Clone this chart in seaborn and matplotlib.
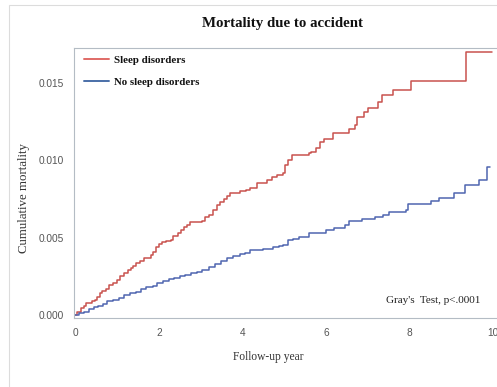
import matplotlib
matplotlib.use("Agg")
import matplotlib.pyplot as plt
import seaborn as sns
import pandas as pd
from matplotlib.lines import Line2D
from matplotlib.patches import Rectangle

# ---- data ----
sleep_t = [0, 0.05, 0.13, 0.2, 0.25, 0.33, 0.41, 0.47, 0.53, 0.59, 0.65, 0.73, 0.81, 0.9,
           1.0, 1.08, 1.17, 1.25, 1.33, 1.39, 1.45, 1.55, 1.64, 1.72, 1.8, 1.86, 1.92,
           2.0, 2.08, 2.18, 2.28, 2.34, 2.45, 2.52, 2.6, 2.68, 2.74, 3.02, 3.1, 3.2,
           3.29, 3.38, 3.47, 3.55, 3.62, 3.7, 3.94, 4.09, 4.18, 4.34, 4.58, 4.7, 4.82,
           4.98, 5.02, 5.1, 5.18, 5.58, 5.65, 5.75, 5.85, 5.95, 6.17, 6.55, 6.69, 6.75,
           6.9, 7.0, 7.25, 7.33, 7.59, 8.04, 9.34, 9.98]
sleep_y = [0, 0.0002, 0.00043, 0.0006, 0.00076, 0.0008, 0.0009, 0.001, 0.00119, 0.0014,
           0.00155, 0.0017, 0.00194, 0.0021, 0.00226, 0.0025, 0.0027, 0.0029, 0.00302,
           0.0032, 0.00334, 0.0035, 0.00367, 0.0037, 0.00388, 0.0041, 0.00442, 0.0046,
           0.0047, 0.0048, 0.00485, 0.0051, 0.0053, 0.0055, 0.0057, 0.00582, 0.006,
           0.0061, 0.00636, 0.0065, 0.0068, 0.0071, 0.0073, 0.0075, 0.0077, 0.00787,
           0.0080, 0.0081, 0.0082, 0.00856, 0.00873, 0.0089, 0.00906, 0.0092, 0.0097,
           0.0100, 0.01035, 0.01045, 0.01056, 0.0108, 0.0112, 0.0114, 0.01175, 0.0120,
           0.0123, 0.0128, 0.0131, 0.0134, 0.0138, 0.0142, 0.01455, 0.01513, 0.0170,
           0.0170]

nosleep_t = [0, 0.1, 0.21, 0.33, 0.45, 0.55, 0.67, 0.77, 0.9, 1.05, 1.17, 1.3, 1.45,
             1.56, 1.7, 1.85, 1.96, 2.1, 2.25, 2.36, 2.5, 2.63, 2.76, 2.9, 3.03, 3.2,
             3.35, 3.48, 3.62, 3.78, 3.93, 4.05, 4.18, 4.5, 4.74, 4.88, 4.96, 5.1, 5.2,
             5.36, 5.6, 5.99, 6.2, 6.46, 6.55, 6.85, 7.18, 7.35, 7.5, 7.9, 7.96, 8.52,
             8.71, 9.07, 9.33, 9.65, 9.85, 9.93]
nosleep_y = [0, 0.0001, 0.00021, 0.0004, 0.00054, 0.0006, 0.0007, 0.0009, 0.001, 0.0011,
             0.0013, 0.0014, 0.0015, 0.00168, 0.0018, 0.0019, 0.00209, 0.0022, 0.0023,
             0.00237, 0.0025, 0.0026, 0.0027, 0.0028, 0.00291, 0.0031, 0.0033, 0.0035,
             0.00367, 0.0038, 0.00395, 0.0040, 0.0042, 0.0043, 0.00442, 0.00446,
             0.00453, 0.00485, 0.0049, 0.00506, 0.00528, 0.0055, 0.0056, 0.00582,
             0.0061, 0.0062, 0.00632, 0.0065, 0.00668, 0.00679, 0.00716, 0.0074,
             0.00755, 0.00787, 0.0084, 0.0087, 0.0096, 0.0096]

groups = ["Sleep disorders", "No sleep disorders"]
x_ticks = [0, 2, 4, 6, 8, 10]
y_ticks = [0.000, 0.005, 0.010, 0.015]
y_tick_labels = ["0.000", "0.005", "0.010", "0.015"]

df = pd.concat([
    pd.DataFrame({"year": sleep_t, "mort": sleep_y, "group": groups[0]}),
    pd.DataFrame({"year": nosleep_t, "mort": nosleep_y, "group": groups[1]}),
])

# ---- figure ----
sns.set_style("white")
W, H = 497, 387
fig = plt.figure(figsize=(W / 100, H / 100), dpi=100)
serif = ["Liberation Serif", "DejaVu Serif"]
sans = ["Liberation Sans", "DejaVu Sans"]

# outer faint frame
fig.patches.append(Rectangle((9 / W, -0.1), 1.2, 1 - 5 / H + 0.1, transform=fig.transFigure,
                             fill=False, edgecolor="#dcdcdc", linewidth=0.8))

left_px, right_px, top_px, bot_px = 73.7, 500, 48, 318
ax = fig.add_axes([left_px / W, 1 - bot_px / H, (right_px - left_px) / W, (bot_px - top_px) / H])

palette = {groups[0]: "#c9524e", groups[1]: "#4f66b0"}
sns.lineplot(data=df, x="year", y="mort", hue="group", palette=palette, estimator=None,
             sort=False, drawstyle="steps-post", linewidth=1.1, legend=False, ax=ax)

ax.set_xlim(-0.038, 10.16)
ax.set_ylim(-0.000194, 0.01727)
ax.set_xticks(x_ticks)
ax.set_xticklabels([str(t) for t in x_ticks])
ax.set_yticks(y_ticks)
ax.set_yticklabels(y_tick_labels)
ax.tick_params(axis="both", direction="out", length=4, width=0.8, color="#a8a8a8",
               labelsize=7.3, labelcolor="#555555", pad=3)
for lab in ax.get_xticklabels() + ax.get_yticklabels():
    lab.set_family(sans)
for s in ax.spines.values():
    s.set_color("#b4bcc4")
    s.set_linewidth(0.8)
ax.set_xlabel("")
ax.set_ylabel("")

# labels and title
fig.text(283 / W, 1 - 24 / H, "Mortality due to accident", ha="center", va="center",
         family=serif, fontweight="bold", fontsize=10.7, color="#111111")
fig.text(268 / W, 1 - 357 / H, "Follow-up year", ha="center", va="center",
         family=serif, fontsize=8.3, color="#333333")
fig.text(24 / W, 1 - 198 / H, "Cumulative mortality", ha="center", va="center",
         rotation=90, family=serif, fontsize=9.3, color="#333333")
fig.text(480 / W, 1 - 300.7 / H, "Gray's  Test, p<.0001", ha="right", va="center",
         family=serif, fontsize=8, color="#222222")

# legend
handles = [Line2D([0], [0], color="#e06a66", lw=1.4),
           Line2D([0], [0], color="#4a6fa8", lw=1.4)]
leg = ax.legend(handles, groups, loc="upper left", frameon=False,
                bbox_to_anchor=(84 / W, 1 - 55.5 / H), bbox_transform=fig.transFigure,
                borderpad=0, borderaxespad=0, handlelength=2.3, handletextpad=0.5,
                labelspacing=1.15, prop={"family": serif, "weight": "bold", "size": 7.8})
for t in leg.get_texts():
    t.set_color("#111111")

fig.savefig("out.png", dpi=100)
